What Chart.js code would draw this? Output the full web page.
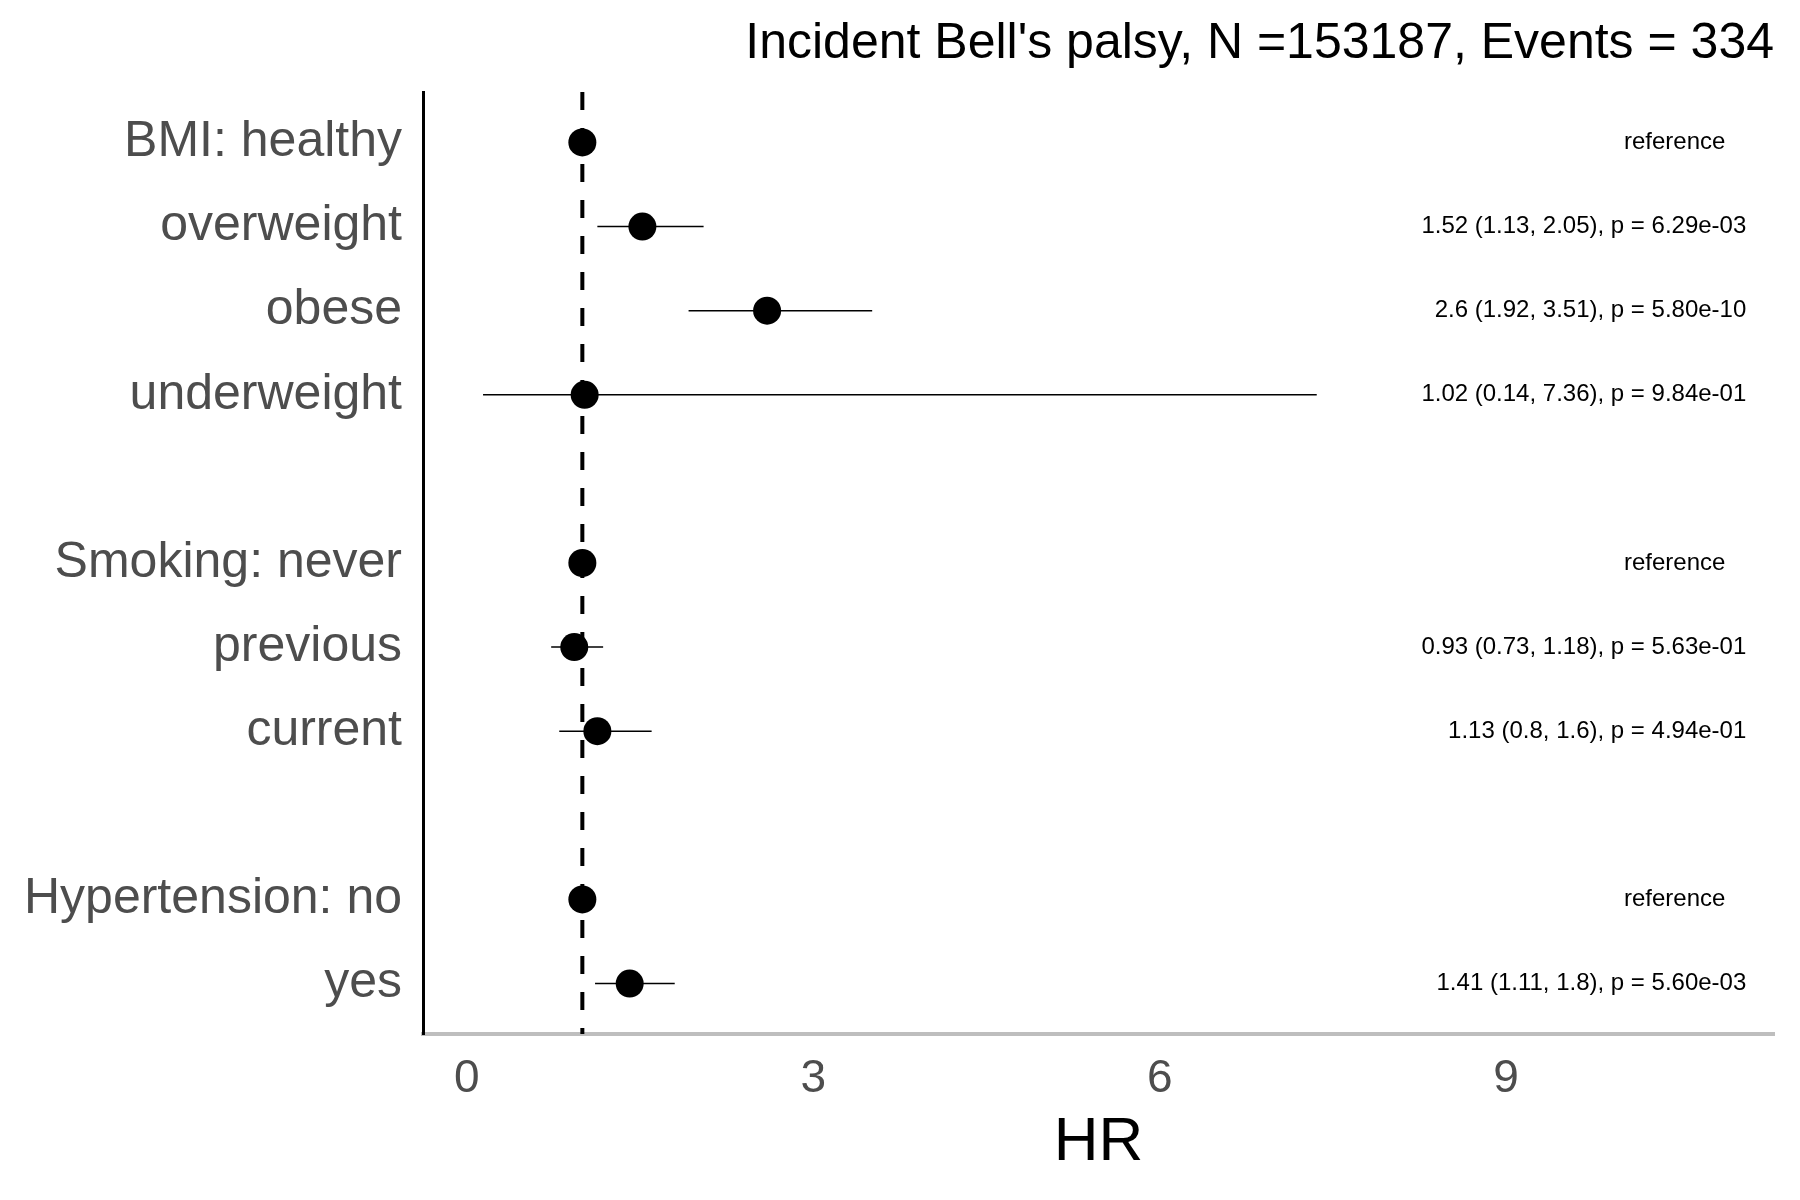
<!DOCTYPE html>
<html>
<head>
<meta charset="utf-8">
<title>Incident Bell's palsy</title>
<script src="https://cdn.jsdelivr.net/npm/chart.js@4.4.1/dist/chart.umd.min.js"></script>
<style>
  html, body { margin: 0; padding: 0; background: #ffffff; }
  #chart { display: block; }
</style>
</head>
<body>
<canvas id="chart" width="1800" height="1200"></canvas>
<script>
// dados do forest plot (linhas vazias separam os grupos)
const rowLabels = ['BMI: healthy', 'overweight', 'obese', 'underweight', '',
  'Smoking: never', 'previous', 'current', '',
  'Hypertension: no', 'yes'];
const hrValues = [1, 1.52, 2.6, 1.02, null, 1, 0.93, 1.13, null, 1, 1.41];
const ciLow = [null, 1.13, 1.92, 0.14, null, null, 0.73, 0.8, null, null, 1.11];
const ciHigh = [null, 2.05, 3.51, 7.36, null, null, 1.18, 1.6, null, null, 1.8];
const pValues = [null, '6.29e-03', '5.80e-10', '9.84e-01', null, null, '5.63e-01', '4.94e-01', null, null, '5.60e-03'];
const isReference = [true, false, false, false, false, true, false, false, false, true, false];
const xTicks = [0, 3, 6, 9];
const titleText = "Incident Bell's palsy, N =153187, Events = 334";

const FONT = "'Liberation Sans', Arial, Helvetica, sans-serif";

// texto da coluna da direita
function rowText(i) {
  if (isReference[i]) return 'reference';
  if (hrValues[i] === null) return '';
  return hrValues[i] + ' (' + ciLow[i] + ', ' + ciHigh[i] + '), p = ' + pValues[i];
}

// pontos (HR) por linha
const pointData = [];
hrValues.forEach((v, i) => {
  if (v !== null) pointData.push({ x: v, y: i + 1 });
});

// um segmento por intervalo de confiança
const ciDatasets = [];
hrValues.forEach((v, i) => {
  if (ciLow[i] === null) return;
  ciDatasets.push({
    type: 'line',
    data: [{ x: ciLow[i], y: i + 1 }, { x: ciHigh[i], y: i + 1 }],
    borderColor: '#000000',
    borderWidth: 1.5,
    pointRadius: 0,
    fill: false,
    order: 2
  });
});

// linha de referência em HR = 1
const refLine = {
  type: 'line',
  data: [{ x: 1, y: 0.4 }, { x: 1, y: rowLabels.length + 0.6 }],
  borderColor: '#000000',
  borderWidth: 4,
  borderDash: [18, 18],
  pointRadius: 0,
  fill: false,
  order: 3
};

// plugin: título e textos da direita
const textPlugin = {
  id: 'forestText',
  afterDraw(chart) {
    const ctx = chart.ctx;
    const x = chart.scales.x;
    const y = chart.scales.y;
    ctx.save();
    ctx.fillStyle = '#000000';
    ctx.textBaseline = 'middle';

    ctx.font = '50px ' + FONT;
    ctx.textAlign = 'right';
    ctx.fillText(titleText, 1774, 44);

    ctx.font = '24px ' + FONT;
    rowLabels.forEach((lab, i) => {
      const txt = rowText(i);
      if (!txt) return;
      const py = y.getPixelForValue(i + 1);
      if (isReference[i]) {
        ctx.textAlign = 'center';
        ctx.fillText(txt, x.getPixelForValue(10.46), py);
      } else {
        ctx.textAlign = 'right';
        ctx.fillText(txt, x.getPixelForValue(11.08), py);
      }
    });
    ctx.restore();
  }
};

const ctx = document.getElementById('chart').getContext('2d');
new Chart(ctx, {
  type: 'scatter',
  data: {
    datasets: [
      {
        data: pointData,
        backgroundColor: '#000000',
        borderWidth: 0,
        pointRadius: 14,
        pointHoverRadius: 14,
        order: 1
      },
      ...ciDatasets,
      refLine
    ]
  },
  options: {
    responsive: false,
    devicePixelRatio: 1,
    animation: false,
    layout: { padding: { top: 92, right: 26, left: 0, bottom: 0 } },
    plugins: {
      legend: { display: false },
      tooltip: { enabled: false },
      title: { display: false }
    },
    scales: {
      x: {
        type: 'linear',
        min: -0.38,
        max: 11.32,
        afterBuildTicks: scale => {
          scale.ticks = xTicks.map(v => ({ value: v }));
        },
        afterFit: scale => { scale.height = 166; },
        grid: { display: false, drawTicks: false },
        border: { display: true, color: '#bebebe', width: 4 },
        ticks: {
          color: '#4d4d4d',
          font: { family: FONT, size: 46 },
          padding: 18,
          maxRotation: 0
        },
        title: {
          display: true,
          text: 'HR',
          color: '#000000',
          font: { family: FONT, size: 62 },
          padding: { top: 0, bottom: 20 }
        }
      },
      y: {
        type: 'linear',
        reverse: true,
        min: 0.4,
        max: rowLabels.length + 0.6,
        afterBuildTicks: scale => {
          scale.ticks = rowLabels.map((l, i) => ({ value: i + 1 }));
        },
        afterFit: scale => { scale.width = 423; },
        grid: { display: false, drawTicks: false },
        border: { display: true, color: '#000000', width: 3 },
        ticks: {
          color: '#4d4d4d',
          font: { family: FONT, size: 50 },
          padding: 21,
          autoSkip: false,
          callback: value => rowLabels[Math.round(value) - 1] || ''
        }
      }
    }
  },
  plugins: [textPlugin]
});
</script>
</body>
</html>
